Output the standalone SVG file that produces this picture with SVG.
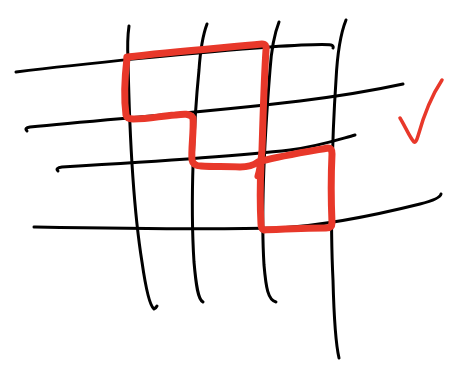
<svg xmlns="http://www.w3.org/2000/svg" width="458" height="366" viewBox="0 0 458 366">
<style>
.ink{fill:none;stroke:#000;stroke-width:3;stroke-linecap:round;stroke-linejoin:round}
.red{fill:none;stroke:#e8382a;stroke-width:7;stroke-linecap:round;stroke-linejoin:round}
.tick{fill:none;stroke:#e8382a;stroke-width:3.5;stroke-linecap:round;stroke-linejoin:round}
</style>
<rect width="458" height="366" fill="#fff"/>
<g id="grid">
<path class="ink" d="M16,72 C80,64 200,52 270,47 C300,45 325,44 331,45 Q334,46 333,48"/>
<path class="ink" d="M27,131 Q24,128 30,127 C110,119 210,112 300,101 C340,96 380,89 403,84"/>
<path class="ink" d="M58,171 Q55,168 62,167 C130,163 230,157 290,150 C320,146 340,139 355,135"/>
<path class="ink" d="M34,227 C90,228 200,230 280,228 C330,225 380,214 420,204 Q440,199 441,194"/>
<path class="ink" d="M129,26 Q127,40 128,60 C129,110 132,200 142,262 C146,290 150,306 154,309 Q156,308 157,306"/>
<path class="ink" d="M207,24 Q201,40 199,70 C194,120 190,200 194,262 C196,285 198,300 203,302"/>
<path class="ink" d="M279,22 Q272,40 270,70 C266,120 260,200 264,265 C266,288 268,300 276,302"/>
<path class="ink" d="M346,20 Q338,40 336,80 C332,140 330,220 333,280 C334,320 336,345 339,358"/>
</g>
<g id="selection">
<path class="red" d="M127,57 C170,52 220,48 262,44 Q267,44 266,50 C264,80 263,120 262,150 C261,163 260,170 258,176"/>
<path class="red" d="M127,58 C125,75 124,100 126,115 Q127,119 133,119 C150,119 160,116 175,115 C183,114 190,113 193,118 C194,130 191,150 192,160 Q193,166 201,166 C215,167 225,166 240,167 C250,167 254,165 258,162"/>
<path class="red" d="M262,161 C280,156 305,152 328,148 Q332,148 332,154 C331,175 331,200 332,223 Q332,228 326,228 C305,228 285,229 264,230 Q261,229 261,224 C260,205 260,185 261,165"/>
</g>
<g id="check">
<path class="tick" d="M400,118 C405,126 410,138 414,142 Q416,143 418,136 C423,118 432,95 442,80"/>
</g>
</svg>
